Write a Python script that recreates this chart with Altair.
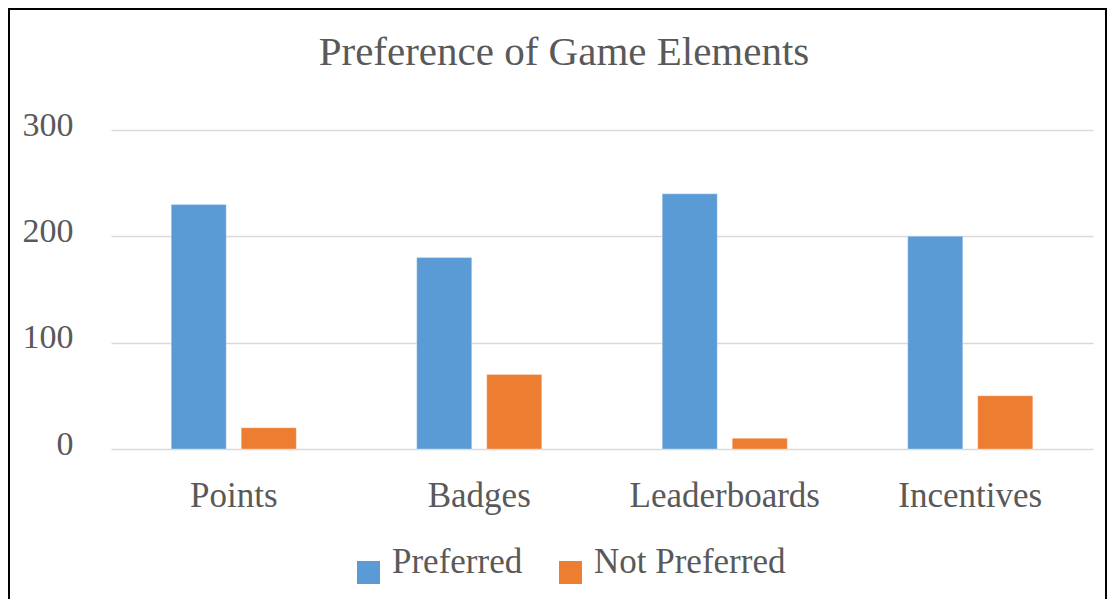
import altair as alt
import pandas as pd

categories = ["Points", "Badges", "Leaderboards", "Incentives"]
preferred = [230, 180, 240, 200]
not_preferred = [20, 70, 10, 50]
series_names = ["Preferred", "Not Preferred"]
y_ticks = [0, 100, 200, 300]

rows = []
for c, p, n in zip(categories, preferred, not_preferred):
    rows.append({"category": c, "series": series_names[0], "value": p})
    rows.append({"category": c, "series": series_names[1], "value": n})
df = pd.DataFrame(rows)

FONT = "Liberation Serif"
TXT = "#595959"

bars = alt.Chart(df).mark_bar(stroke="white", strokeWidth=0.6, strokeOpacity=0.5).encode(
    x=alt.X("category:N", sort=categories, title=None,
            scale=alt.Scale(paddingInner=0, paddingOuter=0),
            axis=alt.Axis(labelAngle=0, labelFont=FONT, labelFontSize=35, labelColor=TXT,
                          labelBaseline="alphabetic", labelPadding=57, labelLimit=0,
                          ticks=False, tickSize=0, domain=False, grid=False)),
    xOffset=alt.XOffset("series:N", sort=series_names,
                        scale=alt.Scale(paddingInner=0.214, paddingOuter=0.86)),
    y=alt.Y("value:Q", title=None,
            scale=alt.Scale(domain=[0, 300], nice=False),
            axis=alt.Axis(values=y_ticks, labelFont=FONT, labelFontSize=34, labelColor=TXT,
                          labelBaseline="alphabetic", labelOffset=5, labelPadding=38,
                          ticks=False, tickSize=0, domain=False, grid=True,
                          gridColor="#D9D9D9", gridWidth=1.4)),
    color=alt.Color("series:N", sort=series_names,
                    scale=alt.Scale(domain=series_names, range=["#5B9BD5", "#ED7D31"]),
                    legend=alt.Legend(orient="none", legendX=240, legendY=425,
                                      direction="horizontal", title=None,
                                      symbolType="square", symbolSize=529,
                                      symbolStrokeWidth=0, labelFont=FONT,
                                      labelFontSize=35, labelColor=TXT, labelLimit=0,
                                      labelBaseline="alphabetic",
                                      labelOffset=6, columnPadding=30, padding=0)),
)

border = alt.Chart(pd.DataFrame({"a": [0]})).mark_rect(
    fillOpacity=0, stroke="black", strokeWidth=2
).encode(
    x=alt.value(-102), x2=alt.value(995), y=alt.value(-121), y2=alt.value(520)
)

chart = alt.layer(bars, border).properties(
    width=982, height=319,
    autosize=alt.AutoSizeParams(type="none"),
    padding={"left": 103, "top": 122, "right": 14, "bottom": 150},
    background="white",
    title=alt.TitleParams("Preference of Game Elements", font=FONT, fontSize=41,
                          fontWeight="normal", color=TXT, anchor="middle",
                          frame="group", dx=-38, baseline="alphabetic", offset=-98),
).configure_view(stroke="transparent", strokeWidth=0)

chart.save("out.html", embed_options={"renderer": "svg", "actions": False})
